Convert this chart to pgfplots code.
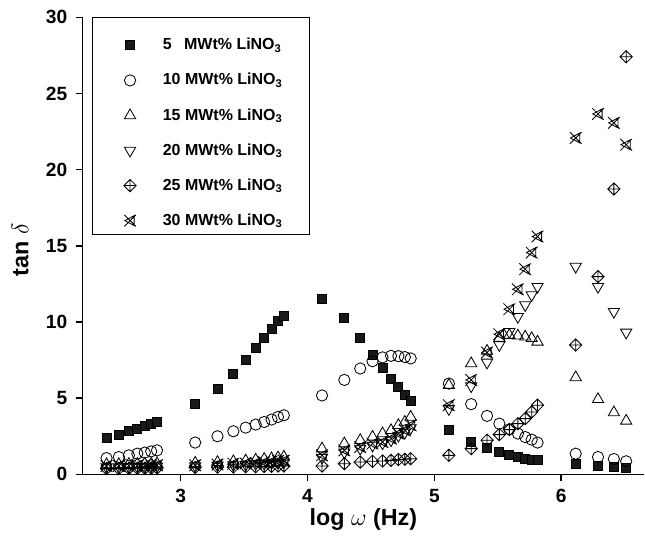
\documentclass[border=0pt]{standalone}
\usepackage{fontspec}
\setmainfont{Liberation Sans}
\usepackage{pgfplots}
\pgfplotsset{compat=1.18}
\usetikzlibrary{calc}

% diamond with a cross inside
\pgfdeclareplotmark{dplus}{%
  \pgfpathmoveto{\pgfqpoint{0pt}{\pgfplotmarksize}}%
  \pgfpathlineto{\pgfqpoint{\pgfplotmarksize}{0pt}}%
  \pgfpathlineto{\pgfqpoint{0pt}{-\pgfplotmarksize}}%
  \pgfpathlineto{\pgfqpoint{-\pgfplotmarksize}{0pt}}%
  \pgfpathclose
  \pgfpathmoveto{\pgfqpoint{0pt}{\pgfplotmarksize}}%
  \pgfpathlineto{\pgfqpoint{0pt}{-\pgfplotmarksize}}%
  \pgfpathmoveto{\pgfqpoint{-\pgfplotmarksize}{0pt}}%
  \pgfpathlineto{\pgfqpoint{\pgfplotmarksize}{0pt}}%
  \pgfusepathqstroke}
% X with a side triangle
\pgfdeclareplotmark{xtri}{%
  \pgfpathmoveto{\pgfqpoint{-\pgfplotmarksize}{\pgfplotmarksize}}%
  \pgfpathlineto{\pgfqpoint{\pgfplotmarksize}{-\pgfplotmarksize}}%
  \pgfpathmoveto{\pgfqpoint{-\pgfplotmarksize}{-\pgfplotmarksize}}%
  \pgfpathlineto{\pgfqpoint{\pgfplotmarksize}{\pgfplotmarksize}}%
  \pgfpathmoveto{\pgfqpoint{0.7\pgfplotmarksize}{0.85\pgfplotmarksize}}%
  \pgfpathlineto{\pgfqpoint{0.7\pgfplotmarksize}{-0.85\pgfplotmarksize}}%
  \pgfpathlineto{\pgfqpoint{-0.9\pgfplotmarksize}{0pt}}%
  \pgfpathclose
  \pgfusepathqstroke}

\newcommand{\legtxt}[1]{\hspace{14pt}#1 MWt\% LiNO\textsubscript{3}}

\begin{document}
\begin{tikzpicture}
\begin{axis}[
  name=ax,
  scale only axis,
  width=337.4pt, height=274.6pt,
  xmin=2.226, xmax=6.654,
  ymin=0, ymax=30,
  axis lines*=left,
  axis line style={line width=0.9pt},
  major tick style={black,line width=0.9pt},
  tick align=outside, major tick length=4.2pt,
  xtick={3,4,5,6}, ytick={0,5,...,30},
  tick label style={font=\bfseries\fontsize{11.5}{13}\selectfont},
  /pgf/number format/assume math mode=true,
  xticklabel style={yshift=-1pt},
  yticklabel style={xshift=-1.5pt},
  xlabel={log $\omega$ (Hz)},
  ylabel={tan $\delta$},
  label style={font=\bfseries\fontsize{14}{16}\selectfont},
  xlabel style={at={(0.5,0)},anchor=center,yshift=-27pt},
  ylabel style={at={(0,0.5)},anchor=center,yshift=37.5pt,xshift=-2.4pt},
  legend cell align=left,
  legend style={at={(0.073,0.962)},anchor=north west,
    draw=none,fill=none,inner sep=0pt,
    row sep=8.6pt,font=\bfseries\fontsize{9.6}{11}\selectfont},
  every axis plot/.append style={only marks,black,line width=0.5pt},
]
%% 5 MWt%
\addplot[mark=square*,mark size=2.7pt,mark options={fill=black!90}] coordinates {
 (2.415,2.39)(2.512,2.61)(2.591,2.83)(2.658,3.01)(2.716,3.18)(2.767,3.33)(2.813,3.44)
 (3.114,4.61)(3.290,5.64)(3.415,6.62)(3.512,7.52)(3.591,8.31)(3.658,8.97)(3.716,9.54)(3.767,10.05)(3.813,10.42)
 (4.114,11.49)(4.290,10.28)(4.415,8.97)(4.512,7.81)(4.591,6.99)(4.658,6.29)(4.716,5.74)(4.767,5.24)(4.813,4.82)
 (5.114,2.94)(5.290,2.13)(5.415,1.76)(5.512,1.45)(5.591,1.30)(5.658,1.14)(5.716,1.03)(5.767,0.97)(5.813,0.92)
 (6.114,0.66)(6.290,0.55)(6.415,0.48)(6.512,0.44)};
\addlegendentry{\legtxt{5\enspace}}
%% 10 MWt%
\addplot[mark=o,mark size=3.4pt] coordinates {
 (2.415,1.07)(2.512,1.14)(2.591,1.25)(2.658,1.36)(2.716,1.43)(2.767,1.51)(2.813,1.58)
 (3.114,2.09)(3.290,2.50)(3.415,2.83)(3.512,3.07)(3.591,3.27)(3.658,3.44)(3.716,3.60)(3.767,3.77)(3.813,3.88)
 (4.114,5.18)(4.290,6.20)(4.415,6.95)(4.512,7.43)(4.591,7.68)(4.658,7.78)(4.716,7.76)(4.767,7.70)(4.813,7.61)
 (5.114,5.96)(5.290,4.61)(5.415,3.84)(5.512,3.33)(5.591,2.96)(5.658,2.68)(5.716,2.45)(5.767,2.28)(5.813,2.09)
 (6.114,1.36)(6.290,1.14)(6.415,1.01)(6.512,0.86)};
\addlegendentry{\legtxt{10}}
%% 15 MWt%
\addplot[mark=triangle,mark size=3.9pt] coordinates {
 (2.415,0.65)(2.512,0.66)(2.591,0.67)(2.658,0.68)(2.716,0.69)(2.767,0.70)(2.813,0.72)
 (3.114,0.75)(3.290,0.80)(3.415,0.85)(3.512,0.90)(3.591,0.95)(3.658,1.00)(3.716,1.05)(3.767,1.10)(3.813,1.15)
 (4.114,1.69)(4.290,2.02)(4.415,2.24)(4.512,2.46)(4.591,2.68)(4.658,2.89)(4.716,3.22)(4.767,3.44)(4.813,3.77)
 (5.114,5.86)(5.290,7.28)(5.415,8.10)(5.512,8.95)(5.591,9.14)(5.658,9.10)(5.716,9.03)(5.767,8.93)(5.813,8.70)
 (6.114,6.36)(6.290,4.93)(6.415,4.06)(6.512,3.51)};
\addlegendentry{\legtxt{15}}
%% 20 MWt%
\addplot[mark=triangle,mark size=3.9pt,mark options={rotate=180}] coordinates {
 (2.415,0.48)(2.512,0.49)(2.591,0.50)(2.658,0.50)(2.716,0.51)(2.767,0.52)(2.813,0.53)
 (3.114,0.55)(3.290,0.60)(3.415,0.62)(3.512,0.65)(3.591,0.70)(3.658,0.72)(3.716,0.75)(3.767,0.78)(3.813,0.80)
 (4.114,1.10)(4.290,1.45)(4.415,1.70)(4.512,1.90)(4.591,2.05)(4.658,2.25)(4.716,2.55)(4.767,2.75)(4.813,3.05)
 (5.114,4.30)(5.290,5.80)(5.415,7.35)(5.512,8.50)(5.591,9.36)(5.658,10.35)(5.716,11.12)(5.767,11.78)(5.813,12.32)
 (6.114,13.64)(6.290,12.32)(6.415,10.68)(6.512,9.32)};
\addlegendentry{\legtxt{20}}
%% 25 MWt%
\addplot[mark=dplus,mark size=3.7pt] coordinates {
 (2.415,0.38)(2.512,0.38)(2.591,0.39)(2.658,0.40)(2.716,0.40)(2.767,0.41)(2.813,0.42)
 (3.114,0.45)(3.290,0.47)(3.415,0.48)(3.512,0.50)(3.591,0.50)(3.658,0.52)(3.716,0.53)(3.767,0.55)(3.813,0.55)
 (4.114,0.55)(4.290,0.70)(4.415,0.81)(4.512,0.86)(4.591,0.88)(4.658,0.92)(4.716,0.97)(4.767,0.99)(4.813,1.03)
 (5.114,1.25)(5.290,1.69)(5.415,2.24)(5.512,2.61)(5.591,2.94)(5.658,3.33)(5.716,3.66)(5.767,4.10)(5.813,4.54)
 (6.114,8.49)(6.290,12.98)(6.415,18.73)(6.512,27.41)};
\addlegendentry{\legtxt{25}}
%% 30 MWt%
\addplot[mark=xtri,mark size=3.5pt] coordinates {
 (2.415,0.55)(2.512,0.56)(2.591,0.57)(2.658,0.58)(2.716,0.58)(2.767,0.60)(2.813,0.60)
 (3.114,0.60)(3.290,0.65)(3.415,0.70)(3.512,0.72)(3.591,0.75)(3.658,0.80)(3.716,0.85)(3.767,0.88)(3.813,0.90)
 (4.114,1.25)(4.290,1.58)(4.415,1.80)(4.512,2.02)(4.591,2.13)(4.658,2.35)(4.716,2.68)(4.767,2.89)(4.813,3.22)
 (5.114,4.54)(5.290,6.20)(5.415,8.00)(5.512,9.20)(5.591,10.84)(5.658,12.15)(5.716,13.47)(5.767,14.56)(5.813,15.61)
 (6.114,22.08)(6.290,23.66)(6.415,23.07)(6.512,21.64)};
\addlegendentry{\legtxt{30}}
% legend frame
\draw[line width=0.6pt] (rel axis cs:0.0183,1) rectangle (rel axis cs:0.404,0.524);
\end{axis}
\pgfresetboundingbox
\path ($(ax.origin)+(-49.6pt,-39.6pt)$) rectangle ($(ax.origin)+(337.9pt,285pt)$);
\end{tikzpicture}
\end{document}
